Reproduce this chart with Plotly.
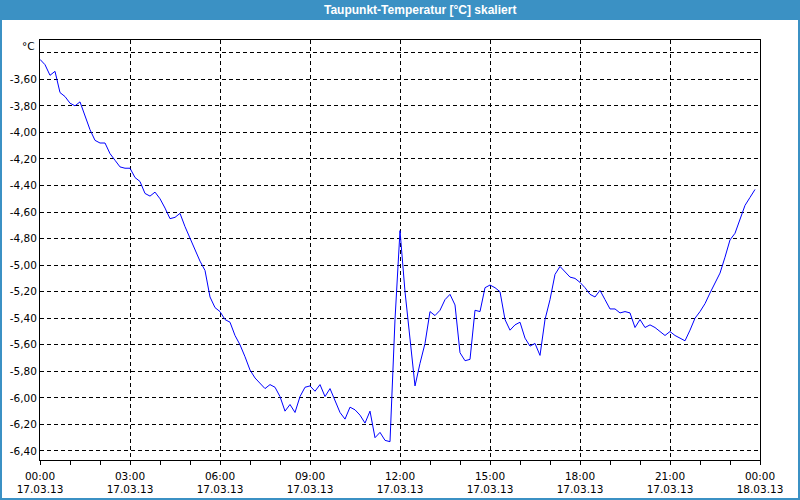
import plotly.graph_objects as go
import pandas as pd

# ---- data (10-minute samples, 17.03.13 00:00 .. 23:50) ----
start_time = "2013-03-17 00:00"
step_minutes = 10
dewpoint = [
    -3.45, -3.49, -3.57, -3.54, -3.70, -3.73, -3.78, -3.80, -3.77, -3.88,
    -3.98, -4.06, -4.08, -4.08, -4.16, -4.21, -4.26, -4.27, -4.27, -4.34,
    -4.37, -4.46, -4.48, -4.45, -4.50, -4.57, -4.65, -4.64, -4.61, -4.71,
    -4.80, -4.89, -4.97, -5.04, -5.24, -5.32, -5.35, -5.41, -5.43, -5.53,
    -5.60, -5.69, -5.79, -5.85, -5.89, -5.93, -5.90, -5.92, -5.99, -6.10,
    -6.05, -6.11, -5.99, -5.92, -5.91, -5.95, -5.90, -5.99, -5.93, -6.02,
    -6.11, -6.16, -6.07, -6.09, -6.13, -6.19, -6.10, -6.30, -6.26, -6.32,
    -6.33, -5.41, -4.74, -5.20, -5.56, -5.91, -5.74, -5.59, -5.35, -5.38,
    -5.34, -5.26, -5.22, -5.30, -5.66, -5.72, -5.71, -5.34, -5.35, -5.17,
    -5.15, -5.17, -5.20, -5.41, -5.49, -5.45, -5.43, -5.55, -5.61, -5.59,
    -5.68, -5.41, -5.26, -5.07, -5.01, -5.05, -5.09, -5.10, -5.13, -5.17,
    -5.22, -5.24, -5.19, -5.26, -5.33, -5.33, -5.36, -5.35, -5.36, -5.47,
    -5.41, -5.47, -5.45, -5.47, -5.50, -5.53, -5.50, -5.53, -5.55, -5.57,
    -5.49, -5.40, -5.35, -5.29, -5.21, -5.13, -5.06, -4.94, -4.81, -4.76,
    -4.66, -4.55, -4.49, -4.43,
]
times = pd.date_range(start_time, periods=len(dewpoint), freq=f"{step_minutes}min")

x_tick_vals = ["2013-03-17 00:00", "2013-03-17 03:00", "2013-03-17 06:00",
               "2013-03-17 09:00", "2013-03-17 12:00", "2013-03-17 15:00",
               "2013-03-17 18:00", "2013-03-17 21:00", "2013-03-18 00:00"]
x_tick_text = ["00:00<br>17.03.13", "03:00<br>17.03.13", "06:00<br>17.03.13",
               "09:00<br>17.03.13", "12:00<br>17.03.13", "15:00<br>17.03.13",
               "18:00<br>17.03.13", "21:00<br>17.03.13", "00:00<br>18.03.13"]
y_tick_vals = [-3.4, -3.6, -3.8, -4.0, -4.2, -4.4, -4.6, -4.8, -5.0,
               -5.2, -5.4, -5.6, -5.8, -6.0, -6.2, -6.4]
y_tick_text = ["", "-3,60", "-3,80", "-4,00", "-4,20", "-4,40", "-4,60", "-4,80",
               "-5,00", "-5,20", "-5,40", "-5,60", "-5,80", "-6,00", "-6,20", "-6,40"]
y_range = [-6.468, -3.304]
title_text = "Taupunkt-Temperatur [°C] skaliert"
unit_text = "°C"

W, H = 800, 500
ML, MR, MT, MB = 40, 40, 40, 40
PW, PH = W - ML - MR, H - MT - MB


def px(x):
    return (x - ML) / PW


def py(y):
    return (H - MB - y) / PH


BAR = "#3b91c4"
FONT = "DejaVu Sans"

fig = go.Figure()
fig.add_trace(go.Scatter(x=times, y=dewpoint, mode="lines",
                         line=dict(color="#0000ff", width=1),
                         hoverinfo="skip", showlegend=False))

fig.update_layout(
    width=W, height=H,
    margin=dict(l=ML, r=MR, t=MT, b=MB, pad=0, autoexpand=False),
    paper_bgcolor="white", plot_bgcolor="white",
    font=dict(family=FONT, size=10, color="black"),
    showlegend=False,
    xaxis=dict(
        type="date", automargin=False,
        range=[x_tick_vals[0], x_tick_vals[-1]],
        tickmode="array", tickvals=x_tick_vals, ticktext=x_tick_text,
        ticks="outside", ticklen=4, tickcolor="black", tickwidth=1,
        ticklabelstandoff=2,
        showgrid=True, gridcolor="black", gridwidth=1, griddash="4px,3px",
        showline=True, linecolor="black", linewidth=1, mirror=True,
        zeroline=False,
        minor=dict(dtick=3600000, tick0="2013-03-17", ticks="outside",
                   ticklen=4, tickcolor="black", showgrid=False),
        tickfont=dict(family=FONT, size=10.5, color="black"),
    ),
    yaxis=dict(
        range=y_range, automargin=False,
        tickmode="array", tickvals=y_tick_vals, ticktext=y_tick_text,
        ticks="", showgrid=True, gridcolor="black", gridwidth=1,
        griddash="4px,3px",
        showline=True, linecolor="black", linewidth=1, mirror=True,
        zeroline=False,
        tickfont=dict(family=FONT, size=10.5, color="black"),
    ),
)

shapes = [
    # title bar
    dict(type="rect", xref="paper", yref="paper", x0=px(0), x1=px(W),
         y0=py(20), y1=py(0), fillcolor=BAR, line=dict(width=0), layer="above"),
    # window borders
    dict(type="rect", xref="paper", yref="paper", x0=px(0), x1=px(2),
         y0=py(H), y1=py(0), fillcolor=BAR, line=dict(width=0), layer="above"),
    dict(type="rect", xref="paper", yref="paper", x0=px(W - 2), x1=px(W),
         y0=py(H), y1=py(0), fillcolor=BAR, line=dict(width=0), layer="above"),
    dict(type="rect", xref="paper", yref="paper", x0=px(0), x1=px(W),
         y0=py(H), y1=py(H - 2), fillcolor=BAR, line=dict(width=0), layer="above"),
]
fig.update_layout(shapes=shapes)

fig.add_annotation(xref="paper", yref="paper", x=px(420), y=py(10),
                   text=f"<b>{title_text}</b>", showarrow=False,
                   xanchor="center", yanchor="middle",
                   font=dict(family="Liberation Sans", size=12, color="white"))
fig.add_annotation(xref="paper", yref="paper", x=px(37), y=py(46),
                   text=unit_text, showarrow=False,
                   xanchor="right", yanchor="middle",
                   font=dict(family=FONT, size=10.5, color="black"))

fig.write_html("out.html")
